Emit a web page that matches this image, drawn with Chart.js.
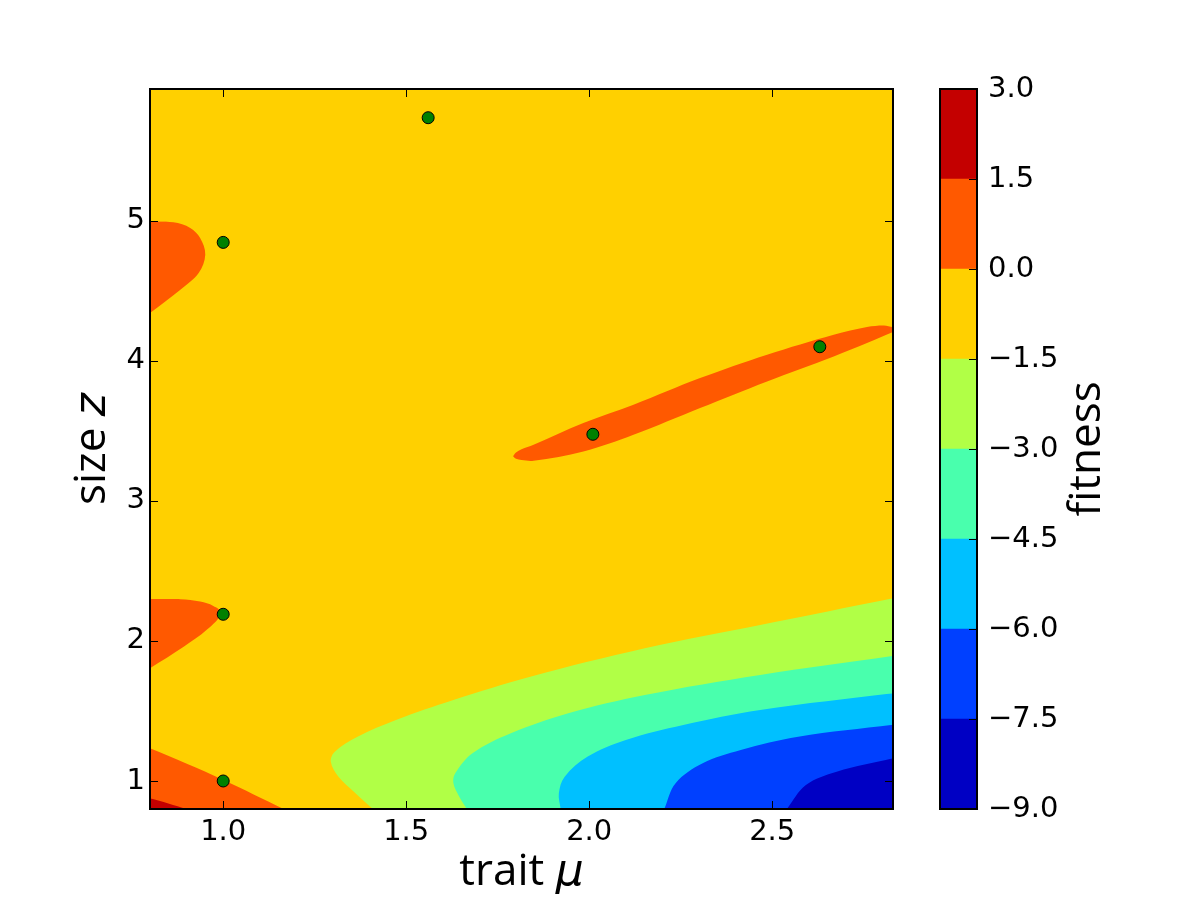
<!DOCTYPE html>
<html>
<head>
<meta charset="utf-8">
<title>fitness landscape</title>
<script src="https://cdn.jsdelivr.net/npm/chart.js@4.4.0/dist/chart.umd.min.js"></script>
<style>
    body { margin: 0; background: #ffffff; }
    #wrap { position: relative; width: 1200px; height: 900px; }
    #wrap canvas { position: absolute; top: 0; }
</style>
</head>
<body>
<div id="wrap">
    <canvas id="fitChart" width="1200" height="900" style="left:0px"></canvas>
    <canvas id="barChart" width="300" height="900" style="left:900px"></canvas>
</div>
<script>
// ticks of the main axes
var xTicks = [1.0, 1.5, 2.0, 2.5];
var xTickLabels = ["1.0", "1.5", "2.0", "2.5"];
var yTicks = [1, 2, 3, 4, 5];
var yTickLabels = ["1", "2", "3", "4", "5"];

// contour levels (colour bar) and their colours
var levels = [-9, -7.5, -6, -4.5, -3, -1.5, 0, 1.5, 3];
var levelLabels = ["\u22129.0", "\u22127.5", "\u22126.0", "\u22124.5", "\u22123.0", "\u22121.5", "0.0", "1.5", "3.0"];
var levelColors = ["#0000c4", "#0040ff", "#00c0ff", "#49ffad", "#b1ff46", "#ffd000", "#ff5900", "#c40000"];

// sampled points: trait mu, size z
var sampleMu = [1.0, 1.0, 1.0, 1.56, 2.01, 2.63];
var sampleZ = [1.0, 2.19, 4.845, 5.735, 3.475, 4.10];

// contour lines, [mu, z], z increasing
// lower right fan, level -1.5 down to -7.5 (filled to the right edge)
var edgeM15 = [[1.409, 0.80], [1.357, 0.924], [1.315, 1.031], [1.294, 1.138], [1.305, 1.209], [1.367, 1.316],
    [1.472, 1.436], [1.629, 1.579], [1.839, 1.745], [2.152, 1.948], [2.467, 2.114], [2.83, 2.305]];
var edgeM30 = [[1.666, 0.80], [1.645, 0.888], [1.629, 0.984], [1.634, 1.055], [1.681, 1.198], [1.786, 1.341],
    [1.943, 1.484], [2.152, 1.614], [2.467, 1.757], [2.83, 1.893]];
var edgeM45 = [[1.922, 0.80], [1.917, 0.912], [1.933, 1.031], [1.996, 1.174], [2.100, 1.293], [2.257, 1.40],
    [2.467, 1.507], [2.83, 1.626]];
var edgeM60 = [[2.205, 0.80], [2.236, 0.984], [2.310, 1.126], [2.414, 1.221], [2.571, 1.316], [2.83, 1.401]];
var edgeM75 = [[2.540, 0.80], [2.592, 0.971], [2.676, 1.066], [2.83, 1.162]];

// left side, level 0 and 1.5 (filled to the left edge)
var lobeLow = [[1.165, 0.80], [1.001, 1.007], [0.899, 1.125], [0.8, 1.234]];
var cornerRed = [[0.901, 0.80], [0.85, 0.84], [0.8, 0.877]];
var lobeMid = [[0.8, 1.805], [0.892, 1.959], [0.955, 2.079], [0.995, 2.20], [0.973, 2.25], [0.937, 2.281],
    [0.883, 2.298], [0.8, 2.30]];
var lobeHigh = [[0.8, 4.341], [0.883, 4.507], [0.933, 4.626], [0.951, 4.757], [0.937, 4.876], [0.910, 4.948],
    [0.864, 4.988], [0.8, 4.995]];

// diagonal ridge, level 0, mu increasing
var ridgeUpper = [[1.792, 3.318], [1.80, 3.345], [1.815, 3.368], [1.848, 3.40], [1.984, 3.555], [2.121, 3.686],
    [2.303, 3.876], [2.486, 4.043], [2.668, 4.186], [2.759, 4.241], [2.805, 4.252], [2.83, 4.24]];
var ridgeLower = [[1.792, 3.318], [1.80, 3.300], [1.815, 3.291], [1.848, 3.286], [1.984, 3.352], [2.121, 3.471],
    [2.303, 3.662], [2.486, 3.852], [2.668, 4.031], [2.759, 4.126], [2.83, 4.205]];

var xMin = 0.8, xMax = 2.83, yMin = 0.8, yMax = 5.94;

function toPoints(pairs) {
    return pairs.map(function (p) { return { x: p[0], y: p[1] }; });
}

// one filled region: a contour line filled towards an edge (or another line)
function band(pairs, color, fill, indexAxis) {
    return {
        data: toPoints(pairs),
        indexAxis: indexAxis || 'y',
        backgroundColor: color,
        borderColor: 'rgba(0,0,0,0)',
        borderWidth: 0,
        pointRadius: 0,
        tension: 0.35,
        fill: fill
    };
}

Chart.defaults.font.family = "'DejaVu Sans'";
Chart.defaults.color = '#000';

var tickFont = { family: "'DejaVu Sans'", size: 29 };
var titleSize = 44;

// yellow background, frame and inward ticks on the four sides, axis titles
var fitFrame = {
    id: 'fitFrame',
    beforeDatasetsDraw: function (chart) {
        var a = chart.chartArea, ctx = chart.ctx;
        ctx.save();
        ctx.fillStyle = levelColors[5];
        ctx.fillRect(a.left, a.top, a.right - a.left, a.bottom - a.top);
        ctx.restore();
    },
    afterDatasetsDraw: function (chart) {
        var a = chart.chartArea, ctx = chart.ctx;
        var sx = chart.scales.x, sy = chart.scales.y;
        ctx.save();
        ctx.strokeStyle = '#000';
        ctx.lineWidth = 1;
        ctx.beginPath();
        xTicks.forEach(function (v) {
            var px = Math.round(sx.getPixelForValue(v)) + 0.5;
            ctx.moveTo(px, a.bottom); ctx.lineTo(px, a.bottom - 8);
            ctx.moveTo(px, a.top); ctx.lineTo(px, a.top + 8);
        });
        yTicks.forEach(function (v) {
            var py = Math.round(sy.getPixelForValue(v)) + 0.5;
            ctx.moveTo(a.left, py); ctx.lineTo(a.left + 8, py);
            ctx.moveTo(a.right, py); ctx.lineTo(a.right - 8, py);
        });
        ctx.stroke();
        ctx.lineWidth = 2;
        ctx.strokeRect(a.left, a.top, a.right - a.left, a.bottom - a.top);
        ctx.restore();
    },
    afterDraw: function (chart) {
        var a = chart.chartArea, ctx = chart.ctx;
        var textFont = titleSize + "px 'Open Sans'";
        var mathFont = "italic " + titleSize + "px 'DejaVu Sans'";
        ctx.save();
        ctx.fillStyle = '#000';
        ctx.textAlign = 'left';
        ctx.textBaseline = 'alphabetic';
        // x title
        ctx.font = textFont;
        var w1 = ctx.measureText('trait ').width;
        ctx.font = mathFont;
        var w2 = ctx.measureText('\u03bc').width;
        var x0 = (a.left + a.right) / 2 - (w1 + w2) / 2;
        ctx.font = textFont;
        ctx.fillText('trait ', x0, 885);
        ctx.font = mathFont;
        ctx.fillText('\u03bc', x0 + w1, 885);
        // y title
        ctx.translate(105, (a.top + a.bottom) / 2);
        ctx.rotate(-Math.PI / 2);
        ctx.font = textFont;
        w1 = ctx.measureText('size ').width;
        ctx.font = mathFont;
        w2 = ctx.measureText('z').width;
        ctx.font = textFont;
        ctx.fillText('size ', -(w1 + w2) / 2, 0);
        ctx.font = mathFont;
        ctx.fillText('z', -(w1 + w2) / 2 + w1, 0);
        ctx.restore();
    }
};

// datasets are drawn last to first, so the top layer comes first
var fitDatasets = [
    {
        data: sampleMu.map(function (m, i) { return { x: m, y: sampleZ[i] }; }),
        showLine: false,
        fill: false,
        pointRadius: 6,
        pointBackgroundColor: '#008000',
        pointBorderColor: '#000',
        pointBorderWidth: 1
    },
    band(ridgeUpper, levelColors[6], '+1', 'x'),
    band(ridgeLower, levelColors[6], false, 'x'),
    band(lobeHigh, levelColors[6], { value: xMin }),
    band(lobeMid, levelColors[6], { value: xMin }),
    band(cornerRed, levelColors[7], { value: xMin }),
    band(lobeLow, levelColors[6], { value: xMin }),
    band(edgeM75, levelColors[0], { value: xMax }),
    band(edgeM60, levelColors[1], { value: xMax }),
    band(edgeM45, levelColors[2], { value: xMax }),
    band(edgeM30, levelColors[3], { value: xMax }),
    band(edgeM15, levelColors[4], { value: xMax })
];

new Chart(document.getElementById('fitChart'), {
    type: 'line',
    data: { datasets: fitDatasets },
    options: {
        responsive: false,
        animation: false,
        devicePixelRatio: 1,
        indexAxis: 'y',
        layout: { padding: { top: 89, right: 307, left: 0, bottom: 0 } },
        plugins: { legend: { display: false }, tooltip: { enabled: false } },
        scales: {
            x: {
                type: 'linear',
                position: 'bottom',
                min: xMin,
                max: xMax,
                grid: { display: false, drawTicks: false },
                border: { display: false },
                afterBuildTicks: function (scale) {
                    scale.ticks = xTicks.map(function (v) { return { value: v }; });
                },
                ticks: {
                    font: tickFont,
                    color: '#000',
                    padding: 6,
                    maxRotation: 0,
                    callback: function (v, i) { return xTickLabels[i]; }
                },
                afterFit: function (scale) { scale.height = 91; }
            },
            y: {
                type: 'linear',
                position: 'left',
                min: yMin,
                max: yMax,
                grid: { display: false, drawTicks: false },
                border: { display: false },
                afterBuildTicks: function (scale) {
                    scale.ticks = yTicks.map(function (v) { return { value: v }; });
                },
                ticks: {
                    font: tickFont,
                    color: '#000',
                    padding: 5,
                    callback: function (v, i) { return yTickLabels[i]; }
                },
                afterFit: function (scale) { scale.width = 150; }
            }
        }
    },
    plugins: [fitFrame]
});

// colour bar
var barFrame = {
    id: 'barFrame',
    afterDatasetsDraw: function (chart) {
        var a = chart.chartArea, ctx = chart.ctx;
        var sy = chart.scales.y;
        ctx.save();
        ctx.strokeStyle = '#000';
        ctx.lineWidth = 1;
        ctx.beginPath();
        levels.forEach(function (v) {
            var py = Math.round(sy.getPixelForValue(v)) + 0.5;
            ctx.moveTo(a.right, py); ctx.lineTo(a.right - 8, py);
        });
        ctx.stroke();
        ctx.lineWidth = 2;
        ctx.strokeRect(a.left, a.top, a.right - a.left, a.bottom - a.top);
        ctx.restore();
    },
    afterDraw: function (chart) {
        var a = chart.chartArea, ctx = chart.ctx;
        ctx.save();
        ctx.fillStyle = '#000';
        ctx.font = titleSize + "px 'Open Sans'";
        ctx.textAlign = 'center';
        ctx.textBaseline = 'alphabetic';
        ctx.translate(200, (a.top + a.bottom) / 2);
        ctx.rotate(-Math.PI / 2);
        ctx.fillText('fitness', 0, 0);
        ctx.restore();
    }
};

new Chart(document.getElementById('barChart'), {
    type: 'bar',
    data: {
        labels: ['fitness'],
        datasets: levelColors.map(function (c, i) {
            return {
                data: [[levels[i], levels[i + 1]]],
                backgroundColor: c,
                borderWidth: 0,
                barPercentage: 1,
                categoryPercentage: 1
            };
        })
    },
    options: {
        responsive: false,
        animation: false,
        devicePixelRatio: 1,
        layout: { padding: { top: 89, right: 0, left: 40, bottom: 91 } },
        plugins: { legend: { display: false }, tooltip: { enabled: false } },
        scales: {
            x: { display: false, stacked: true },
            y: {
                position: 'right',
                min: levels[0],
                max: levels[levels.length - 1],
                grid: { display: false, drawTicks: false },
                border: { display: false },
                afterBuildTicks: function (scale) {
                    scale.ticks = levels.map(function (v) { return { value: v }; });
                },
                ticks: {
                    font: tickFont,
                    color: '#000',
                    padding: 11,
                    callback: function (v, i) { return levelLabels[i]; }
                },
                afterFit: function (scale) { scale.width = 223; }
            }
        }
    },
    plugins: [barFrame]
});
</script>
</body>
</html>
